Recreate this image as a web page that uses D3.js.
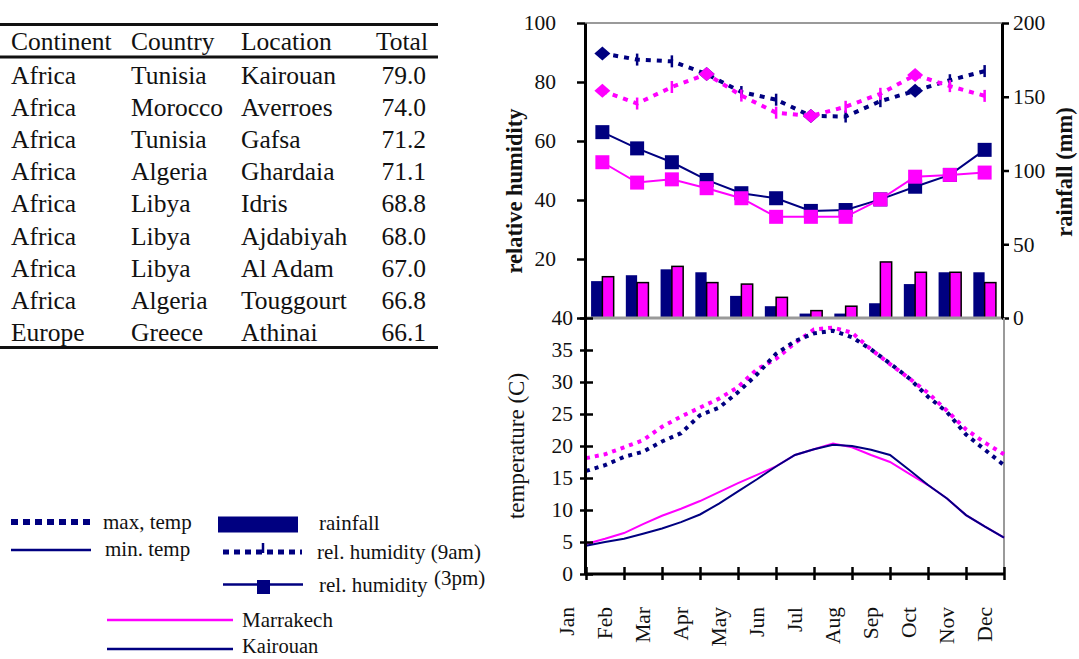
<!DOCTYPE html>
<html>
<head>
<meta charset="utf-8">
<script src="https://cdn.jsdelivr.net/npm/d3@7"></script>
<style>
  body { margin: 0; background: #fff; }
  svg text { font-family: "Liberation Serif", "Times New Roman", serif; fill: #111; }
</style>
</head>
<body>
<svg id="chart" width="1079" height="659"></svg>
<script>
// ---- table: hottest locations ----
const tableHeader = ["Continent", "Country", "Location", "Total"];
const continents = ["Africa", "Africa", "Africa", "Africa", "Africa", "Africa", "Africa", "Africa", "Europe"];
const countries  = ["Tunisia", "Morocco", "Tunisia", "Algeria", "Libya", "Libya", "Libya", "Algeria", "Greece"];
const locations  = ["Kairouan", "Averroes", "Gafsa", "Ghardaia", "Idris", "Ajdabiyah", "Al Adam", "Touggourt", "Athinai"];
const totals     = ["79.0", "74.0", "71.2", "71.1", "68.8", "68.0", "67.0", "66.8", "66.1"];

// ---- monthly climate data ----
const months = ["Jan", "Feb", "Mar", "Apr", "May", "Jun", "Jul", "Aug", "Sep", "Oct", "Nov", "Dec"];
const rainKairouan  = [25, 29, 33, 31, 15, 8, 3, 3, 10, 23, 31, 31];
const rainMarrakech = [28, 24, 35, 24, 23, 14, 5, 8, 38, 31, 31, 24];
const hum9Kairouan  = [89.7, 87.6, 87.0, 82.7, 76.6, 74.0, 68.5, 68.3, 73.5, 77.0, 80.6, 83.7];
const hum9Marrakech = [77.0, 72.7, 78.3, 82.7, 75.4, 69.6, 68.5, 71.6, 76.0, 82.4, 78.6, 75.3];
const hum3Kairouan  = [63.0, 57.5, 52.8, 46.8, 42.3, 40.6, 36.3, 36.6, 40.2, 44.5, 48.5, 57.0];
const hum3Marrakech = [52.8, 45.9, 47.0, 44.0, 40.6, 34.3, 34.3, 34.3, 40.2, 47.9, 48.5, 49.3];

// ---- half-monthly temperatures (Jan 1 .. Dec 1, step half a month) ----
const tempSteps = d3.range(23).map(k => k / 2);
const tmaxKairouan  = [16.1, 17.0, 18.3, 19.1, 20.7, 22.0, 24.8, 26.0, 28.4, 31.2, 34.4, 36.4, 37.6, 38.0, 37.0, 35.1, 32.9, 30.6, 27.7, 25.3, 21.8, 19.4, 17.0];
const tmaxMarrakech = [18.1, 18.7, 19.8, 20.9, 23.0, 24.6, 26.0, 27.4, 29.2, 32.0, 33.6, 36.1, 38.2, 38.5, 37.7, 35.1, 32.8, 30.6, 28.3, 25.5, 22.6, 20.5, 18.7];
const tminKairouan  = [4.4, 5.0, 5.5, 6.3, 7.1, 8.1, 9.3, 11.0, 12.9, 14.8, 16.8, 18.6, 19.5, 20.2, 20.0, 19.4, 18.6, 16.3, 13.9, 11.8, 9.2, 7.4, 5.7];
const tminMarrakech = [4.7, 5.5, 6.4, 7.8, 9.1, 10.2, 11.4, 12.8, 14.2, 15.5, 16.8, 18.6, 19.5, 20.4, 19.8, 18.6, 17.5, 15.7, 13.9, 11.8, 9.2, 7.4, 5.7];

// ---- axis ticks ----
const humTicks = [0, 20, 40, 60, 80, 100];
const rainTicks = [0, 50, 100, 150, 200];
const tempTicks = [0, 5, 10, 15, 20, 25, 30, 35, 40];

const NAVY = "#000080", PINK = "#ff00ff", GREY = "#9a9a9a";
const TICK_FONT = 21.5, LEGEND_FONT = 21;
const svg = d3.select("#chart");
svg.append("rect").attr("width", 1079).attr("height", 659).attr("fill", "#fff");

// ================= table =================
const tbl = svg.append("g");
const colX = [11, 131, 241];
const totalRight = 428;
const rowY = i => 84 + i * 32.1;
tbl.append("line").attr("x1", 0).attr("x2", 438).attr("y1", 24.5).attr("y2", 24.5).attr("stroke", "#111").attr("stroke-width", 3);
tbl.append("line").attr("x1", 0).attr("x2", 438).attr("y1", 57).attr("y2", 57).attr("stroke", "#111").attr("stroke-width", 3);
tbl.append("line").attr("x1", 0).attr("x2", 438).attr("y1", 347.5).attr("y2", 347.5).attr("stroke", "#111").attr("stroke-width", 3);
tableHeader.forEach((h, j) => {
  tbl.append("text").attr("x", j < 3 ? colX[j] : totalRight).attr("y", 50)
    .attr("text-anchor", j < 3 ? "start" : "end").attr("font-size", 25.5).text(h);
});
const columns = [continents, countries, locations];
columns.forEach((col, j) => {
  tbl.selectAll(null).data(col).enter().append("text")
    .attr("x", colX[j]).attr("y", (d, i) => rowY(i)).attr("font-size", 25.5).text(d => d);
});
tbl.selectAll(null).data(totals).enter().append("text")
  .attr("x", totalRight - 2).attr("y", (d, i) => rowY(i)).attr("text-anchor", "end")
  .attr("font-size", 25.5).text(d => d);

// ================= upper panel: humidity + rainfall =================
const xBand = d3.scaleBand().domain(months).range([585, 1002]).paddingInner(0.35).paddingOuter(0.175);
const xSub = d3.scaleBand().domain(["Kairouan", "Marrakech"]).range([0, xBand.bandwidth()]);
const yHum = d3.scaleLinear().domain([0, 100]).range([318, 23]);
const yRain = d3.scaleLinear().domain([0, 200]).range([318, 23]);
const cx = m => xBand(m) + xBand.bandwidth() / 2;

const upper = svg.append("g");
upper.append("line").attr("x1", 585).attr("x2", 1002).attr("y1", 23).attr("y2", 23).attr("stroke", GREY).attr("stroke-width", 2);

// rainfall bars
const rainRows = months.map((m, i) => ({ m, k: rainKairouan[i], r: rainMarrakech[i] }));
upper.selectAll(".rk").data(rainRows).enter().append("rect")
  .attr("x", d => xBand(d.m) + xSub("Kairouan")).attr("width", xSub.bandwidth())
  .attr("y", d => yRain(d.k)).attr("height", d => yRain(0) - yRain(d.k)).attr("fill", NAVY);
upper.selectAll(".rm").data(rainRows).enter().append("rect")
  .attr("x", d => xBand(d.m) + xSub("Marrakech")).attr("width", xSub.bandwidth())
  .attr("y", d => yRain(d.r)).attr("height", d => yRain(0) - yRain(d.r))
  .attr("fill", PINK).attr("stroke", "#000").attr("stroke-width", 1.5);

upper.append("line").attr("x1", 585).attr("x2", 1002).attr("y1", 318).attr("y2", 318).attr("stroke", GREY).attr("stroke-width", 3);

// 9am humidity: dotted line, diamond each quarter, short bar otherwise
function drawMorning(values, color) {
  const line = d3.line().x((d, i) => cx(months[i])).y(d => yHum(d));
  upper.append("path").datum(values).attr("d", line).attr("fill", "none")
    .attr("stroke", color).attr("stroke-width", 4).attr("stroke-dasharray", "5,6");
  values.forEach((v, i) => {
    const x = cx(months[i]), y = yHum(v);
    if (i % 3 === 0) {
      upper.append("path").attr("d", `M${x},${y - 7}L${x + 8},${y}L${x},${y + 7}L${x - 8},${y}Z`).attr("fill", color);
    } else {
      upper.append("line").attr("x1", x).attr("x2", x).attr("y1", y - 6).attr("y2", y + 6)
        .attr("stroke", color).attr("stroke-width", 2.5);
    }
  });
}
drawMorning(hum9Kairouan, NAVY);
drawMorning(hum9Marrakech, PINK);

// 3pm humidity: solid line with square markers
function drawAfternoon(values, color) {
  const line = d3.line().x((d, i) => cx(months[i])).y(d => yHum(d));
  upper.append("path").datum(values).attr("d", line).attr("fill", "none")
    .attr("stroke", color).attr("stroke-width", 2);
  upper.selectAll(null).data(values).enter().append("rect")
    .attr("x", (d, i) => cx(months[i]) - 7).attr("y", d => yHum(d) - 7)
    .attr("width", 14).attr("height", 14).attr("fill", color);
}
drawAfternoon(hum3Kairouan, NAVY);
drawAfternoon(hum3Marrakech, PINK);

// left humidity axis
const axHum = upper.append("g").attr("transform", "translate(585,0)")
  .call(d3.axisLeft(yHum).tickValues(humTicks).tickSizeInner(8).tickSizeOuter(0).tickPadding(21)
    .tickFormat(d => d === 0 ? "" : d));
// right rainfall axis
const axRain = upper.append("g").attr("transform", "translate(1002,0)")
  .call(d3.axisRight(yRain).tickValues(rainTicks).tickSizeInner(7).tickSizeOuter(0).tickPadding(4));
[axHum, axRain].forEach(g => {
  g.select(".domain").attr("stroke", "#000").attr("stroke-width", 3);
  g.selectAll(".tick line").attr("stroke", "#000").attr("stroke-width", 2.5);
  g.selectAll(".tick text").attr("font-size", TICK_FONT).attr("font-family", "Liberation Serif, serif").attr("fill", "#111");
});

upper.append("text").attr("transform", "translate(522,191) rotate(-90)").attr("text-anchor", "middle")
  .attr("font-size", 22.5).attr("font-weight", "bold").text("relative humidity");
upper.append("text").attr("transform", "translate(1072,172) rotate(-90)").attr("text-anchor", "middle")
  .attr("font-size", 22.5).attr("font-weight", "bold").text("rainfall (mm)");

// ================= lower panel: temperature =================
const xT = d3.scaleLinear().domain([0, 11]).range([586, 1004]);
const yT = d3.scaleLinear().domain([0, 40]).range([574, 318]);
const lower = svg.append("g");
lower.append("line").attr("x1", 1004).attr("x2", 1004).attr("y1", 318).attr("y2", 574).attr("stroke", GREY).attr("stroke-width", 2);

const tLine = d3.line().x((d, i) => xT(tempSteps[i])).y(d => yT(d));
lower.append("path").datum(tmaxMarrakech).attr("d", tLine).attr("fill", "none")
  .attr("stroke", PINK).attr("stroke-width", 4).attr("stroke-dasharray", "4,5");
lower.append("path").datum(tmaxKairouan).attr("d", tLine).attr("fill", "none")
  .attr("stroke", NAVY).attr("stroke-width", 4).attr("stroke-dasharray", "4,5");
lower.append("path").datum(tminMarrakech).attr("d", tLine).attr("fill", "none")
  .attr("stroke", PINK).attr("stroke-width", 2);
lower.append("path").datum(tminKairouan).attr("d", tLine).attr("fill", "none")
  .attr("stroke", NAVY).attr("stroke-width", 2);

const axT = lower.append("g").attr("transform", "translate(585,0)")
  .call(d3.axisLeft(yT).tickValues(tempTicks).tickSizeInner(5).tickSizeOuter(0).tickPadding(7));
axT.selectAll(".tick line").attr("x2", 8).attr("x1", -5);
const axM = lower.append("g").attr("transform", "translate(0,574)")
  .call(d3.axisBottom(xT).tickValues(d3.range(12)).tickSizeInner(6).tickSizeOuter(0).tickFormat(""));
axM.selectAll(".tick line").attr("y1", -7).attr("y2", 6);
[axT, axM].forEach(g => {
  g.select(".domain").attr("stroke", "#000").attr("stroke-width", 3);
  g.selectAll(".tick line").attr("stroke", "#000").attr("stroke-width", 2.5);
  g.selectAll(".tick text").attr("font-size", TICK_FONT).attr("font-family", "Liberation Serif, serif").attr("fill", "#111");
});
axM.select(".domain").attr("d", "M585,0H1004");

lower.selectAll(".month").data(months).enter().append("text")
  .attr("transform", (d, i) => `translate(${xT(i - 0.5) + 7},607) rotate(-90)`)
  .attr("text-anchor", "end").attr("font-size", 21.5).text(d => d);

lower.append("text").attr("transform", "translate(524,446) rotate(-90)").attr("text-anchor", "middle")
  .attr("font-size", 23).text("temperature (C)");

// ================= legend =================
const lg = svg.append("g");
lg.append("line").attr("x1", 11).attr("x2", 91).attr("y1", 522).attr("y2", 522)
  .attr("stroke", NAVY).attr("stroke-width", 6).attr("stroke-dasharray", "7,5");
lg.append("text").attr("x", 103).attr("y", 529).attr("font-size", LEGEND_FONT).text("max, temp");
lg.append("line").attr("x1", 11).attr("x2", 91).attr("y1", 550).attr("y2", 550)
  .attr("stroke", NAVY).attr("stroke-width", 2.5);
lg.append("text").attr("x", 105).attr("y", 556).attr("font-size", LEGEND_FONT).text("min. temp");

lg.append("rect").attr("x", 218).attr("y", 516.5).attr("width", 80).attr("height", 16).attr("fill", NAVY);
lg.append("text").attr("x", 319).attr("y", 530).attr("font-size", LEGEND_FONT).text("rainfall");
lg.append("line").attr("x1", 223).attr("x2", 302).attr("y1", 552).attr("y2", 552)
  .attr("stroke", NAVY).attr("stroke-width", 5).attr("stroke-dasharray", "6,5");
lg.append("line").attr("x1", 263).attr("x2", 263).attr("y1", 543).attr("y2", 553)
  .attr("stroke", NAVY).attr("stroke-width", 2.5);
lg.append("text").attr("x", 317).attr("y", 559).attr("font-size", LEGEND_FONT).text("rel. humidity (9am)");
lg.append("line").attr("x1", 223).attr("x2", 303).attr("y1", 584.5).attr("y2", 584.5)
  .attr("stroke", NAVY).attr("stroke-width", 2.5);
lg.append("rect").attr("x", 257).attr("y", 580).attr("width", 13).attr("height", 14).attr("fill", NAVY);
lg.append("text").attr("x", 319).attr("y", 592).attr("font-size", LEGEND_FONT).text("rel. humidity");
lg.append("text").attr("x", 434).attr("y", 585).attr("font-size", LEGEND_FONT).text("(3pm)");

lg.append("line").attr("x1", 107).attr("x2", 233).attr("y1", 620).attr("y2", 620)
  .attr("stroke", PINK).attr("stroke-width", 2.5);
lg.append("text").attr("x", 242).attr("y", 627).attr("font-size", LEGEND_FONT).text("Marrakech");
lg.append("line").attr("x1", 107).attr("x2", 233).attr("y1", 649).attr("y2", 649)
  .attr("stroke", NAVY).attr("stroke-width", 2.5);
lg.append("text").attr("x", 242).attr("y", 653).attr("font-size", 20.5).text("Kairouan");
</script>
</body>
</html>
